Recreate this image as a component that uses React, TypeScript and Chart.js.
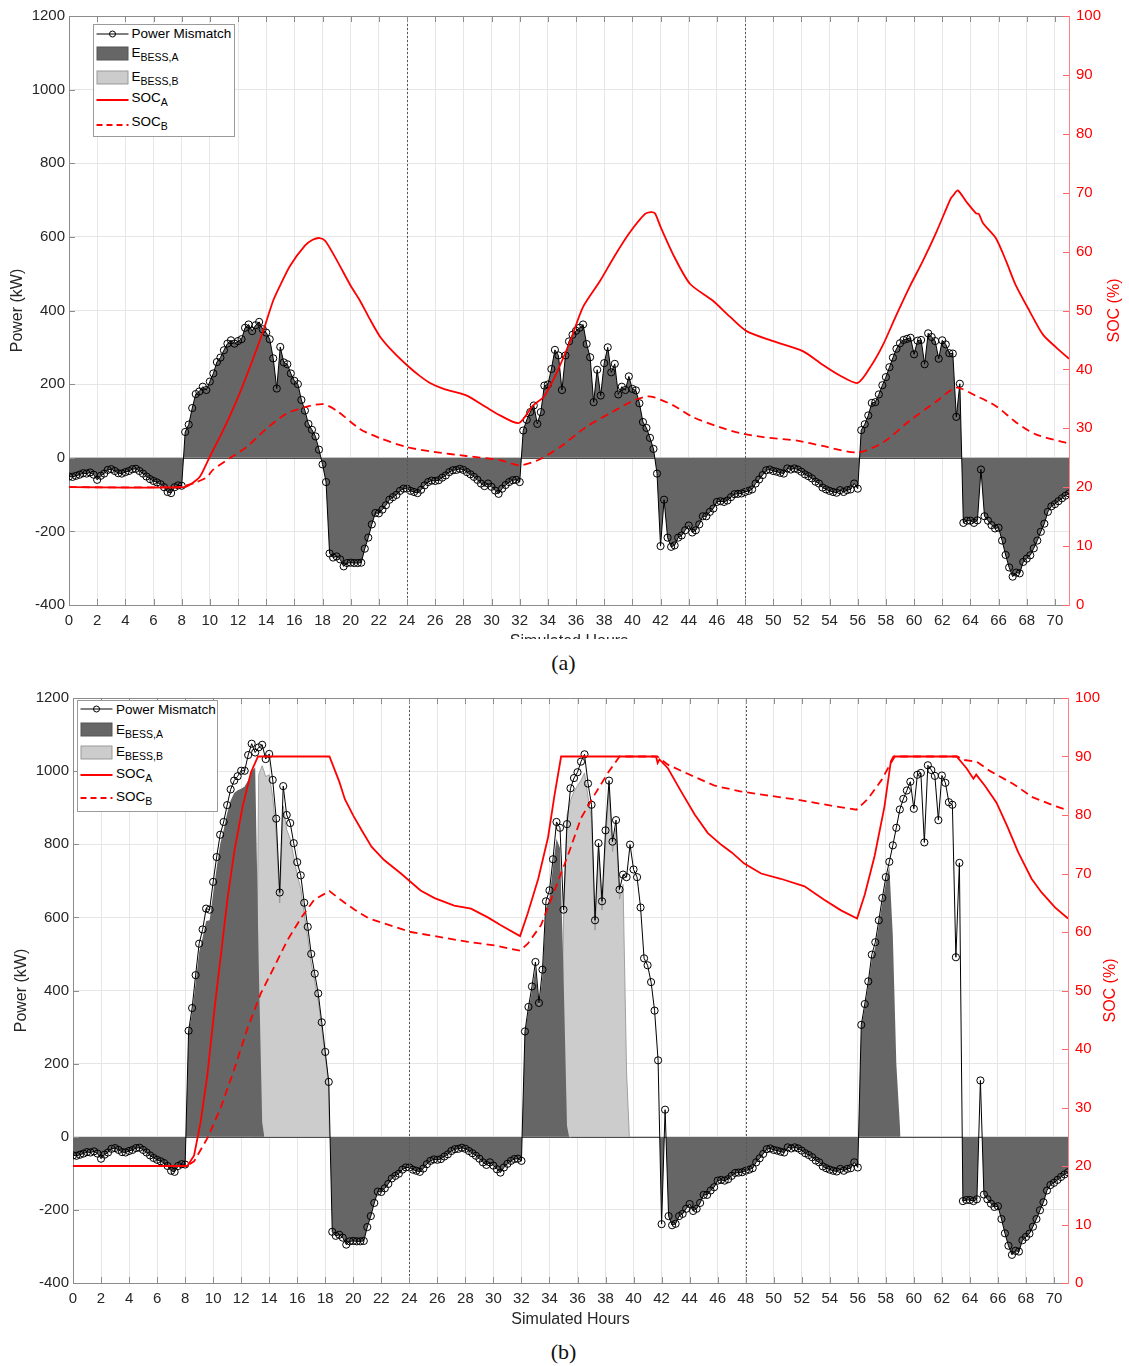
import React, { useEffect, useRef } from "react";
import { Chart, registerables } from "chart.js";

Chart.register(...registerables);

const FONT = "'Liberation Sans', Arial, Helvetica, sans-serif";
const TEXT = "#262626";
const RED = "#ff0000";
const DARK = "#666666";
const LIGHT = "#cccccc";
const GRID = "#e6e6e6";
const AXIS = "#8c8c8c";

// Power-mismatch series is sampled every 15 minutes, from 0 h to 71 h
const STEP_H = 0.25;
const X_MAX = 71;
const X_TICK_STEP = 2;
const Y_MIN = -400;
const Y_MAX = 1200;
const Y_STEP = 200;
const SOC_MIN = 0;
const SOC_MAX = 100;
const SOC_STEP = 10;
const DAY_MARKERS = [24, 48];

// ---- Power mismatch (kW) : night segments shared by both scenarios ----
const night1 = [-51, -52, -49, -46, -42, -43, -40, -46, -60, -49, -43, -33, -31, -36, -42, -43, -39, -36, -31, -30, -36, -43, -51, -58, -63, -67, -72, -80, -93, -96, -80, -75, -76];
const night2 = [-260, -271, -268, -276, -295, -286, -285, -286, -286, -285, -247, -217, -181, -150, -151, -141, -129, -114, -107, -101, -90, -84, -84, -90, -93, -96, -87, -75, -66, -62, -63, -61, -54, -48, -39, -34, -33, -30, -33, -39, -45, -52, -60, -70, -77, -70, -79, -89, -98, -84, -74, -66, -61, -60, -66];
const night3 = [-217, -242, -238, -217, -211, -197, -184, -203, -197, -181, -159, -159, -147, -138, -120, -118, -120, -116, -107, -99, -98, -97, -93, -90, -86, -70, -59, -47, -34, -32, -36, -38, -41, -43, -29, -32, -29, -32, -38, -45, -50, -56, -65, -70, -81, -86, -90, -93, -95, -88, -93, -88, -86, -70, -84];
const night4 = [-171, -183, -192, -190, -225, -264, -298, -323, -312, -314, -283, -274, -265, -246, -225, -201, -179, -147, -132, -126, -118, -110, -103, -97];

// ---- day segments, scenario (a) ----
const day1A = [70, 90, 135, 173, 180, 193, 184, 207, 229, 260, 272, 292, 310, 319, 310, 317, 322, 353, 362, 344, 360, 369, 349, 340, 322, 270, 188, 301, 259, 254, 229, 209, 200, 157, 128, 92, 76, 58, 22, -18, -66];
const day2A = [74, 103, 124, 142, 92, 124, 196, 199, 241, 293, 278, 184, 278, 316, 334, 345, 353, 362, 309, 273, 151, 239, 169, 257, 300, 232, 255, 172, 193, 184, 221, 187, 183, 148, 97, 81, 54, 24, -43, -240, -114];
const day3A = [75, 91, 115, 149, 151, 172, 197, 219, 246, 272, 296, 311, 320, 323, 326, 281, 318, 320, 254, 338, 328, 317, 269, 319, 308, 284, 283, 111, 201, -177, -171, -171, -177, -170, -32, -159];

// ---- day segments, scenario (b) ----
const day1B = [290, 352, 442, 528, 567, 624, 621, 697, 765, 826, 861, 907, 950, 974, 986, 1001, 1001, 1044, 1075, 1051, 1065, 1072, 1033, 1047, 976, 870, 668, 959, 880, 858, 803, 751, 715, 640, 574, 500, 446, 392, 313, 232, 150];
const day2B = [288, 355, 411, 478, 366, 457, 644, 674, 759, 861, 845, 621, 855, 953, 981, 997, 1026, 1046, 966, 908, 592, 803, 644, 838, 974, 807, 866, 676, 717, 710, 799, 731, 710, 627, 488, 469, 423, 345, 209, -239, 74];
const day3B = [306, 363, 425, 498, 532, 592, 653, 710, 752, 797, 845, 895, 924, 947, 971, 897, 990, 995, 805, 1016, 1003, 987, 866, 988, 968, 915, 908, 491, 749, -176, -173, -173, -176, -171, 154, -158];

const mismatchA = [...night1, ...day1A, ...night2, ...day2A, ...night3, ...day3A, ...night4];
const mismatchB = [...night1, ...day1B, ...night2, ...day2B, ...night3, ...day3B, ...night4];

// ---- scenario (b) battery energy areas (hours, kW) ----
const bessA1Hours = [8.05, 8.25, 8.5, 8.75, 9, 9.25, 9.5, 9.75, 10, 10.25, 10.5, 10.75, 11, 11.25, 11.5, 11.75, 12, 12.25, 12.5, 12.75, 13, 13.25, 13.5, 13.65];
const bessA1Vals = [0, 285, 340, 420, 505, 545, 590, 592, 665, 735, 800, 840, 885, 920, 940, 948, 952, 958, 975, 1000, 1010, 480, 40, 0];
const bessB1Hours = [13, 13.25, 13.5, 13.75, 14, 14.25, 14.5, 14.75, 15, 15.25, 15.5, 15.75, 16, 16.25, 16.5, 16.75, 17, 17.25, 17.5, 17.75, 18, 18.25, 18.3];
const bessB1Vals = [0, 990, 1015, 985, 990, 930, 830, 640, 905, 840, 815, 765, 715, 680, 610, 545, 475, 425, 372, 297, 220, 143, 0];
const bessA2Hours = [32.05, 32.25, 32.5, 32.75, 33, 33.25, 33.5, 33.75, 34, 34.25, 34.5, 34.75, 35, 35.25, 35.4];
const bessA2Vals = [0, 285, 345, 400, 460, 355, 440, 625, 650, 740, 815, 790, 450, 30, 0];
const bessB2Hours = [34.75, 35, 35.25, 35.5, 35.75, 36, 36.25, 36.5, 36.75, 37, 37.25, 37.5, 37.75, 38, 38.25, 38.5, 38.75, 39, 39.25, 39.5, 39.7];
const bessB2Vals = [0, 590, 880, 920, 945, 960, 975, 995, 930, 870, 565, 785, 620, 810, 950, 780, 845, 650, 690, 180, 0];
const bessA3Hours = [56.05, 56.25, 56.5, 56.75, 57, 57.25, 57.5, 57.75, 58, 58.25, 58.5, 58.75, 59.05];
const bessA3Vals = [0, 300, 355, 415, 485, 520, 580, 640, 695, 740, 550, 200, 0];

// ---- SOC (%) [hour, value] ----
const socA_a: [number, number][] = [[0, 20], [8.15, 20], [8.7, 20.6], [9.3, 21.8], [10, 25.2], [10.95, 29.7], [11.9, 34.7], [12.85, 40.4], [13.8, 46.6], [14.5, 51.7], [15, 54.3], [15.7, 57.6], [16.75, 61], [17.3, 62], [17.8, 62.3], [18.2, 61.8], [19, 58.6], [20, 54.2], [20.65, 51.7], [21.3, 48.8], [22.1, 45.5], [23, 43], [24, 40.7], [24.9, 38.9], [25.7, 37.6], [26.6, 36.7], [28.2, 35.6], [29.6, 33.6], [30.6, 32.2], [31.95, 30.9], [32.95, 33.9], [33.7, 35.3], [34.6, 39.3], [35.6, 44.9], [36.5, 50.6], [37.7, 55], [38.75, 59.3], [39.8, 63.2], [40.9, 66.4], [41.3, 66.7], [41.6, 66.5], [42, 64.2], [43, 59], [44.1, 54.5], [45.7, 51.7], [46.9, 49], [48.1, 46.5], [50, 44.8], [52.1, 43.1], [53.5, 40.8], [54.7, 39], [56, 37.7], [57, 40.8], [57.8, 44.2], [58.7, 49], [59.7, 54.1], [60.6, 58.3], [61.6, 63.4], [62.6, 69], [62.8, 69.6], [63.1, 70.4], [63.7, 68.5], [64.4, 66.5], [64.6, 66.4], [64.9, 64.8], [65.8, 62.3], [66.55, 58.3], [67.2, 54.4], [68.2, 49.9], [69.15, 45.9], [70.1, 43.7], [71, 41.8]];
const socB_a: [number, number][] = [[0, 20], [8.1, 20], [8.35, 20.3], [9, 20.8], [9.8, 21.7], [10.2, 22.9], [11.6, 25.2], [12.6, 26.8], [14, 29.9], [15.45, 32.5], [16.9, 33.7], [18.05, 34.1], [19, 33], [20.65, 29.9], [22.1, 28.3], [24, 26.8], [25.9, 26], [28.2, 25.3], [30.6, 24.6], [32, 23.7], [33.4, 24.7], [34.85, 26.8], [36.7, 30.2], [38.6, 32.8], [40.05, 34.7], [41, 35.4], [41.5, 35.3], [42.9, 33.9], [44.3, 31.9], [46.2, 30.2], [47.6, 29.2], [49.3, 28.5], [51.7, 27.9], [53.5, 27], [56, 25.9], [57.8, 27.6], [59.7, 31.3], [61.6, 34.6], [63, 36.9], [64.4, 35.5], [65.8, 33.8], [67.25, 31], [68.6, 29], [70.7, 27.6], [71, 27.4]];
const socA_b: [number, number][] = [[0, 20], [8.16, 20], [8.64, 21.8], [9.1, 27.4], [9.6, 35.8], [10.07, 46.3], [10.55, 56], [11.03, 65.8], [11.5, 73.6], [12.1, 81.4], [12.7, 87.3], [13.2, 90], [18.3, 90], [19, 85.7], [19.4, 82.7], [20, 79.9], [20.6, 77.4], [21.3, 74.6], [22.2, 72.3], [23.4, 70], [24.8, 67.1], [25.8, 65.8], [27.2, 64.5], [28.4, 64], [29.6, 62.5], [30.5, 61.2], [31.9, 59.3], [32.45, 63.2], [33.2, 69.1], [33.9, 76.2], [34.36, 83.4], [34.83, 90], [41.6, 90], [41.72, 88.9], [41.85, 89.5], [42.45, 88], [43.4, 84], [44.36, 80.1], [45.3, 76.9], [46.26, 74.9], [47, 73.6], [47.9, 71.7], [49.1, 70], [50.5, 69.1], [52.2, 67.8], [53.6, 65.5], [54.8, 63.7], [55.95, 62.3], [56.5, 66.4], [57.2, 73], [57.9, 81.4], [58.36, 89.2], [58.55, 90], [63.05, 90], [63.76, 88], [64.25, 86.2], [64.45, 86.9], [65.07, 85], [65.9, 82.1], [66.7, 77.9], [67.45, 73.6], [68.4, 69.1], [69.1, 66.8], [70.07, 64.2], [71, 62.3]];
const socB_b: [number, number][] = [[0, 20], [8.1, 20], [8.64, 20.8], [9.6, 24.8], [10.55, 30], [11.5, 36.5], [12.46, 43.6], [13.4, 49.5], [14.37, 54.1], [15.3, 58.6], [16.3, 62.5], [17.2, 65.5], [18.3, 67], [19.1, 65.5], [20.1, 63.8], [21.05, 62.4], [22, 61.6], [22.96, 60.9], [24.1, 60], [25.8, 59.3], [28.2, 58.3], [30.1, 57.7], [31.9, 56.8], [32.45, 58], [33.4, 61.2], [34.36, 67.1], [35.3, 73], [36.26, 79.5], [37.2, 83.4], [38.2, 87.3], [39, 90], [41.7, 90], [42.45, 88.6], [43.9, 87], [45.8, 85], [47.7, 84], [49.4, 83.4], [51.7, 82.6], [54.1, 81.6], [55.9, 80.9], [56.7, 82.7], [57.7, 86], [58.36, 88.9], [58.64, 90], [63.1, 90], [63.6, 89.4], [64.5, 89.1], [65.45, 87.5], [67.1, 85.3], [68.5, 83], [70, 81.6], [71, 80.8]];

type Pt = { x: number; y: number };
const seriesPts = (vals: number[]): Pt[] => vals.map((y, i) => ({ x: i * STEP_H, y }));
const pairPts = (h: number[], v: number[]): Pt[] => h.map((x, i) => ({ x, y: v[i] }));
const tuplePts = (t: [number, number][]): Pt[] => t.map(([x, y]) => ({ x, y }));

interface Layout {
  yWidth: number;
  y1Width: number;
  xHeight: number;
  yTitlePad: number;
  rightTitleX: number;
  socTension: number;
}

function decorPlugin(L: Layout) {
  return {
    id: "decor",
    beforeDatasetsDraw(chart: any) {
      const { ctx, chartArea: a, scales } = chart;
      const y0 = Math.round(scales.y.getPixelForValue(0)) + 0.5;
      ctx.save();
      ctx.strokeStyle = "#4d4d4d";
      ctx.lineWidth = 1;
      ctx.beginPath();
      ctx.moveTo(a.left, y0);
      ctx.lineTo(a.right, y0);
      ctx.stroke();
      ctx.restore();
    },
    afterDatasetsDraw(chart: any) {
      const { ctx, chartArea: a, scales } = chart;
      ctx.save();
      ctx.strokeStyle = "#555555";
      ctx.lineWidth = 1;
      ctx.setLineDash([2, 2]);
      DAY_MARKERS.forEach((h) => {
        const x = Math.round(scales.x.getPixelForValue(h)) + 0.5;
        ctx.beginPath();
        ctx.moveTo(x, a.top);
        ctx.lineTo(x, a.bottom);
        ctx.stroke();
      });
      ctx.restore();
    },
    afterDraw(chart: any) {
      const { ctx, chartArea: a, scales } = chart;
      const T = 6;
      ctx.save();
      ctx.lineWidth = 1;
      ctx.strokeStyle = AXIS;
      ctx.beginPath();
      ctx.moveTo(a.left, a.top + 0.5);
      ctx.lineTo(a.right, a.top + 0.5);
      ctx.stroke();
      ctx.beginPath();
      for (let h = 0; h <= X_MAX; h += X_TICK_STEP) {
        const x = Math.round(scales.x.getPixelForValue(h)) + 0.5;
        ctx.moveTo(x, a.bottom);
        ctx.lineTo(x, a.bottom - T);
        ctx.moveTo(x, a.top);
        ctx.lineTo(x, a.top + T);
      }
      for (let v = Y_MIN; v <= Y_MAX; v += Y_STEP) {
        const y = Math.round(scales.y.getPixelForValue(v)) + 0.5;
        ctx.moveTo(a.left, y);
        ctx.lineTo(a.left + T, y);
      }
      ctx.stroke();
      ctx.strokeStyle = "#ff6666";
      ctx.beginPath();
      for (let v = SOC_MIN; v <= SOC_MAX; v += SOC_STEP) {
        const y = Math.round(scales.y1.getPixelForValue(v)) + 0.5;
        ctx.moveTo(a.right, y);
        ctx.lineTo(a.right - T, y);
      }
      ctx.stroke();
      ctx.translate(L.rightTitleX, (a.top + a.bottom) / 2);
      ctx.rotate(-Math.PI / 2);
      ctx.fillStyle = RED;
      ctx.font = `16px ${FONT}`;
      ctx.textAlign = "center";
      ctx.textBaseline = "middle";
      ctx.fillText("SOC (%)", 0, 0);
      ctx.restore();
    },
  };
}

function buildOptions(L: Layout): any {
  const tickFont = { family: FONT, size: 15 };
  const titleFont = { family: FONT, size: 16, lineHeight: 1.2 };
  const plain = (v: any) => String(v);
  return {
    responsive: false,
    animation: false,
    events: [],
    layout: { padding: { top: 15, left: 0, right: 0, bottom: 0 } },
    plugins: { legend: { display: false }, tooltip: { enabled: false } },
    elements: { line: { tension: 0 } },
    scales: {
      x: {
        type: "linear",
        min: 0,
        max: X_MAX,
        ticks: {
          stepSize: X_TICK_STEP,
          includeBounds: false,
          autoSkip: false,
          maxRotation: 0,
          padding: 7,
          color: TEXT,
          font: tickFont,
          callback: plain,
        },
        grid: { color: GRID, drawTicks: false },
        border: { color: AXIS },
        title: { display: true, text: "Simulated Hours", color: TEXT, font: titleFont, padding: { top: 4, bottom: 4 } },
        afterFit: (s: any) => {
          s.height = L.xHeight;
        },
      },
      y: {
        position: "left",
        min: Y_MIN,
        max: Y_MAX,
        ticks: { stepSize: Y_STEP, padding: 4, color: TEXT, font: tickFont, callback: plain },
        grid: { color: GRID, drawTicks: false },
        border: { color: AXIS },
        title: { display: true, text: "Power (kW)", color: TEXT, font: titleFont, padding: { top: L.yTitlePad, bottom: 0 } },
        afterFit: (s: any) => {
          s.width = L.yWidth;
        },
      },
      y1: {
        position: "right",
        min: SOC_MIN,
        max: SOC_MAX,
        ticks: { stepSize: SOC_STEP, padding: 7, color: RED, font: tickFont, callback: plain },
        grid: { display: false, drawTicks: false },
        border: { color: "#ff8080" },
        afterFit: (s: any) => {
          s.width = L.y1Width;
        },
      },
    },
  };
}

const lineDs = (data: Pt[]) => ({
  label: "Power Mismatch",
  data,
  yAxisID: "y",
  borderColor: "#000000",
  borderWidth: 1,
  pointRadius: 3.6,
  pointBorderWidth: 1,
  pointBorderColor: "#000000",
  pointBackgroundColor: "rgba(0,0,0,0)",
  fill: false,
  order: 3,
});
const socDs = (label: string, data: Pt[], dashed: boolean, tension: number) => ({
  label,
  data,
  yAxisID: "y1",
  borderColor: RED,
  borderWidth: 1.8,
  borderDash: dashed ? [8, 5] : [],
  pointRadius: 0,
  tension,
  fill: false,
  order: dashed ? 2 : 1,
});
const areaDs = (label: string, data: Pt[], color: string, order: number, edge?: string) => ({
  label,
  data,
  yAxisID: "y",
  borderColor: edge || "rgba(0,0,0,0)",
  borderWidth: edge ? 0.8 : 0,
  pointRadius: 0,
  backgroundColor: color,
  fill: "origin",
  order,
});

const LAYOUT_A: Layout = { yWidth: 69, y1Width: 60, xHeight: 50, yTitlePad: 8.4, rightTitleX: 1115, socTension: 0.25 };
const LAYOUT_B: Layout = { yWidth: 73, y1Width: 61, xHeight: 50, yTitlePad: 12.4, rightTitleX: 1111, socTension: 0 };

function LegendBox(props: { left: number; top: number; width: number; height: number; iconX: number; textX: number; rows: number[]; textRows: number[] }) {
  const { left, top, width, height, iconX, textX, rows, textRows } = props;
  const W = 32;
  const sub = (s: string) => (
    <span style={{ fontSize: 10.5, position: "relative", top: 4 }}>{s}</span>
  );
  const labels: React.ReactNode[] = [
    <>Power Mismatch</>,
    <>E{sub("BESS,A")}</>,
    <>E{sub("BESS,B")}</>,
    <>SOC{sub("A")}</>,
    <>SOC{sub("B")}</>,
  ];
  return (
    <div style={{ position: "absolute", left, top, width, height, boxSizing: "border-box", border: "1px solid #9a9a9a", background: "#ffffff" }}>
      <svg width={width} height={height} style={{ position: "absolute", left: -1, top: -1 }}>
        <line x1={iconX} x2={iconX + W} y1={rows[0]} y2={rows[0]} stroke="#000" strokeWidth={1} />
        <circle cx={iconX + W / 2} cy={rows[0]} r={3} fill="none" stroke="#000" strokeWidth={1} />
        <rect x={iconX + 0.5} y={rows[1] - 6.5} width={W - 1} height={13} fill={DARK} stroke="#555" strokeWidth={1} />
        <rect x={iconX + 0.5} y={rows[2] - 6.5} width={W - 1} height={13} fill={LIGHT} stroke="#999" strokeWidth={1} />
        <line x1={iconX} x2={iconX + W} y1={rows[3]} y2={rows[3]} stroke={RED} strokeWidth={1.8} />
        <line x1={iconX} x2={iconX + W} y1={rows[4]} y2={rows[4]} stroke={RED} strokeWidth={1.8} strokeDasharray="6 4" />
      </svg>
      {labels.map((l, i) => (
        <div
          key={i}
          style={{
            position: "absolute",
            left: textX - 1,
            top: textRows[i] - 9 - 1,
            height: 18,
            lineHeight: "18px",
            fontSize: 13.5,
            fontFamily: FONT,
            color: "#000",
            whiteSpace: "nowrap",
          }}
        >
          {l}
        </div>
      ))}
    </div>
  );
}

export default function App() {
  const refA = useRef<HTMLCanvasElement | null>(null);
  const refB = useRef<HTMLCanvasElement | null>(null);

  useEffect(() => {
    const ptsA = seriesPts(mismatchA);
    const ptsB = seriesPts(mismatchB);

    const chartA = new Chart(refA.current as HTMLCanvasElement, {
      type: "line",
      data: {
        datasets: [
          socDs("SOC_A", tuplePts(socA_a), false, LAYOUT_A.socTension),
          socDs("SOC_B", tuplePts(socB_a), true, LAYOUT_A.socTension),
          lineDs(ptsA),
          areaDs("E_BESS,A", ptsA, DARK, 6),
        ] as any,
      },
      options: buildOptions(LAYOUT_A),
      plugins: [decorPlugin(LAYOUT_A)],
    });

    const negFill = {
      label: "E_BESS,A discharge",
      data: ptsB,
      yAxisID: "y",
      borderColor: "rgba(0,0,0,0)",
      borderWidth: 0,
      pointRadius: 0,
      fill: { target: "origin", above: "rgba(0,0,0,0)", below: DARK },
      order: 6,
    };

    const chartB = new Chart(refB.current as HTMLCanvasElement, {
      type: "line",
      data: {
        datasets: [
          socDs("SOC_A", tuplePts(socA_b), false, LAYOUT_B.socTension),
          socDs("SOC_B", tuplePts(socB_b), true, LAYOUT_B.socTension),
          lineDs(ptsB),
          negFill,
          areaDs("E_BESS,A 1", pairPts(bessA1Hours, bessA1Vals), DARK, 6),
          areaDs("E_BESS,A 2", pairPts(bessA2Hours, bessA2Vals), DARK, 6),
          areaDs("E_BESS,A 3", pairPts(bessA3Hours, bessA3Vals), DARK, 6),
          areaDs("E_BESS,B 1", pairPts(bessB1Hours, bessB1Vals), LIGHT, 7, "#8f8f8f"),
          areaDs("E_BESS,B 2", pairPts(bessB2Hours, bessB2Vals), LIGHT, 7, "#8f8f8f"),
        ] as any,
      },
      options: buildOptions(LAYOUT_B),
      plugins: [decorPlugin(LAYOUT_B)],
    });

    return () => {
      chartA.destroy();
      chartB.destroy();
    };
  }, []);

  const caption: React.CSSProperties = {
    position: "absolute",
    left: 0,
    width: 1127,
    textAlign: "center",
    fontFamily: "'Liberation Serif', 'DejaVu Serif', serif",
    fontSize: 22,
    lineHeight: "26px",
    color: "#111",
  };

  return (
    <div style={{ position: "absolute", left: 0, top: 0, width: 1129, height: 1366, background: "#ffffff", overflow: "hidden" }}>
      <div style={{ position: "absolute", left: 0, top: 0, width: 1129, height: 639, overflow: "hidden" }}>
        <canvas ref={refA} width={1129} height={655} style={{ display: "block", width: 1129, height: 655 }} />
      </div>
      <LegendBox left={93} top={24} width={142} height={113} iconX={3.5} textX={38.5} rows={[10, 29.5, 53.5, 76, 101]} textRows={[10, 29, 52.5, 73.5, 98]} />
      <div style={{ ...caption, top: 650 }}>(a)</div>

      <div style={{ position: "absolute", left: 0, top: 682, width: 1129, height: 651 }}>
        <canvas ref={refB} width={1129} height={651} style={{ display: "block", width: 1129, height: 651 }} />
      </div>
      <LegendBox left={77} top={700} width={141} height={112} iconX={3.5} textX={39} rows={[9, 29.5, 52.5, 75, 98]} textRows={[10, 29.5, 52, 74, 97]} />
      <div style={{ ...caption, top: 1339 }}>(b)</div>
    </div>
  );
}
